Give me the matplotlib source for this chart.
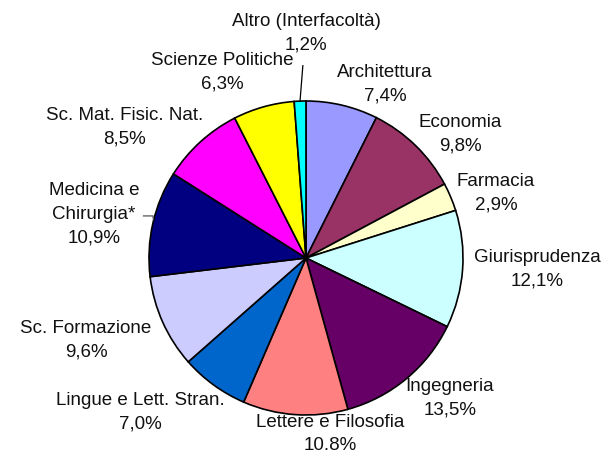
import matplotlib
matplotlib.use("Agg")
import matplotlib.pyplot as plt

categories = ["Architettura", "Economia", "Farmacia", "Giurisprudenza", "Ingegneria",
              "Lettere e Filosofia", "Lingue e Lett. Stran.", "Sc. Formazione",
              "Medicina e\nChirurgia*", "Sc. Mat. Fisic. Nat.", "Scienze Politiche",
              "Altro (Interfacoltà)"]
values = [7.4, 9.8, 2.9, 12.1, 13.5, 10.8, 7.0, 9.6, 10.9, 8.5, 6.3, 1.2]
value_labels = ["7,4%", "9,8%", "2,9%", "12,1%", "13,5%", "10.8%", "7,0%", "9,6%",
                "10,9%", "8,5%", "6,3%", "1,2%"]
colors = ["#9999FF", "#993366", "#FFFFCC", "#CCFFFF", "#660066", "#FF8080",
          "#0066CC", "#CCCCFF", "#000080", "#FF00FF", "#FFFF00", "#00FFFF"]

# label positions in units of pie radius relative to centre
label_pos = [(0.503, 1.108), (0.981, 0.790), (1.210, 0.414), (1.471, -0.070),
             (0.917, -0.892), (0.153, -1.121), (-1.057, -0.981), (-1.401, -0.522),
             (-1.350, 0.280), (-1.153, 0.834), (-0.535, 1.185), (0.0, 1.433)]

W, H = 605, 458
fig = plt.figure(figsize=(W / 100, H / 100), dpi=100)
ax = fig.add_axes([0, 0, 1, 1])
R = 157.0
cx, cy = 306.0, 258.0
ax.pie(values, colors=colors, startangle=90, counterclock=False, radius=1.0,
       wedgeprops=dict(edgecolor="black", linewidth=1.2))
ax.set_xlim(-cx / R, (W - cx) / R)
ax.set_ylim(-(H - cy) / R, cy / R)
ax.set_aspect("auto")
ax.axis("off")

font = ["Liberation Sans", "DejaVu Sans"]
for cat, vl, (x, y) in zip(categories, value_labels, label_pos):
    ax.text(x, y, f"{cat}\n{vl}", ha="center", va="center", fontsize=13.5,
            family=font, linespacing=1.5, color="#111111")

# leader lines
ax.plot([-0.038, -0.020], [1.0, 1.225], color="black", lw=0.9)
ax.plot([-1.035, -0.975, -0.972], [0.268, 0.268, 0.245], color="#555555", lw=0.9)

fig.savefig("out.png", dpi=100)
